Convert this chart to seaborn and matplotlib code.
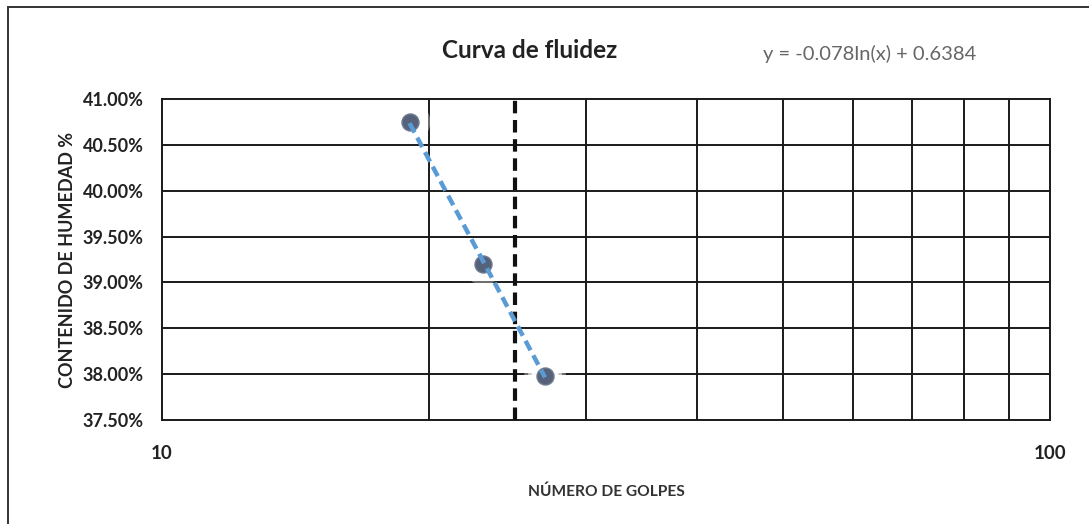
import numpy as np
import pandas as pd
import matplotlib
matplotlib.use("Agg")
import matplotlib.pyplot as plt
from matplotlib.patches import Rectangle
from matplotlib.ticker import FixedLocator, NullLocator, FuncFormatter
import seaborn as sns

# Ensayo de límite líquido: número de golpes vs contenido de humedad
golpes = [19, 23, 27]
humedad = [0.4075, 0.3920, 0.3798]
golpes_ref = 25
ecuacion = "y = -0.078ln(x) + 0.6384"
titulo = "Curva de fluidez"
etiqueta_x = "NÚMERO DE GOLPES"
etiqueta_y = "CONTENIDO DE HUMEDAD %"
y_ticks = [0.375, 0.380, 0.385, 0.390, 0.395, 0.400, 0.405, 0.410]
x_ticks = [10, 100]
x_grid = [20, 30, 40, 50, 60, 70, 80, 90]

df = pd.DataFrame({"golpes": golpes, "humedad": humedad})

sns.set_theme(style="white")
plt.rcParams["font.family"] = ["Lato", "DejaVu Sans"]

fig = plt.figure(figsize=(10.89, 5.24), dpi=100)
ax = fig.add_axes([162 / 1089, 1 - 420 / 524, (1050 - 162) / 1089, (420 - 99) / 524])

# marco exterior del gráfico
fig.patches.append(Rectangle((8 / 1089, -0.05), 1.1, 1 - 7 / 524 + 0.05,
                             transform=fig.transFigure, fill=False,
                             edgecolor="#333333", linewidth=1.4, zorder=0))

ax.set_xscale("log")
ax.set_xlim(10, 100)
ax.set_ylim(0.375, 0.410)

# cuadrícula
for xv in x_grid:
    ax.axvline(xv, color="#1a1a1a", linewidth=1.4, zorder=1)
for yv in y_ticks[1:-1]:
    ax.axhline(yv, color="#1a1a1a", linewidth=1.4, zorder=1)
for s in ax.spines.values():
    s.set_color("#1a1a1a")
    s.set_linewidth(1.4)

# línea de referencia a 25 golpes
ax.axvline(golpes_ref, color="#111111", linewidth=3, linestyle=(0, (3, 1.6)), zorder=3)

# línea de tendencia logarítmica ajustada a los datos
lx = np.log(np.array(golpes, dtype=float))
pend, inter = np.polyfit(lx, np.array(humedad), 1)
xt = np.linspace(min(golpes), max(golpes), 50)
tend = pd.DataFrame({"golpes": xt, "humedad": pend * np.log(xt) + inter})

# puntos con halo blanco difuso
for s_halo, a_halo in [(900, 0.35), (600, 0.6), (380, 0.9)]:
    sns.scatterplot(data=df, x="golpes", y="humedad", ax=ax, s=s_halo, color="white",
                    edgecolor="none", alpha=a_halo, zorder=4, legend=False)
sns.scatterplot(data=df, x="golpes", y="humedad", ax=ax, s=150, color="#56627a",
                edgecolor="#6f7b90", linewidth=1, zorder=5, legend=False)
sns.lineplot(data=tend, x="golpes", y="humedad", ax=ax, color="#5b9bd5",
             linewidth=3.2, linestyle=(0, (2.4, 1.3)), zorder=6)

ax.xaxis.set_major_locator(FixedLocator(x_ticks))
ax.xaxis.set_minor_locator(NullLocator())
ax.xaxis.set_major_formatter(FuncFormatter(lambda v, p: f"{v:g}"))
ax.yaxis.set_major_locator(FixedLocator(y_ticks))
ax.yaxis.set_major_formatter(FuncFormatter(lambda v, p: f"{v * 100:.2f}%"))
ax.tick_params(axis="x", length=0, pad=18, labelsize=13.5, labelcolor="#222222")
ax.tick_params(axis="y", length=0, pad=13, labelsize=13, labelcolor="#222222")
for lbl in ax.get_xticklabels() + ax.get_yticklabels():
    lbl.set_fontweight("bold")

ax.set_xlabel(etiqueta_x, fontsize=11.2, fontweight="bold", color="#333333", labelpad=16)
ax.set_ylabel(etiqueta_y, fontsize=13, fontweight="bold", color="#222222", labelpad=5)

fig.text(530 / 1089, 1 - 50 / 524, titulo, ha="center", va="center",
         fontsize=17.5, fontweight="bold", color="#222222")
fig.text(870 / 1089, 1 - 54 / 524, ecuacion, ha="center", va="center",
         fontsize=14.5, color="#666666")

fig.savefig("out.png", dpi=100, facecolor="white")
